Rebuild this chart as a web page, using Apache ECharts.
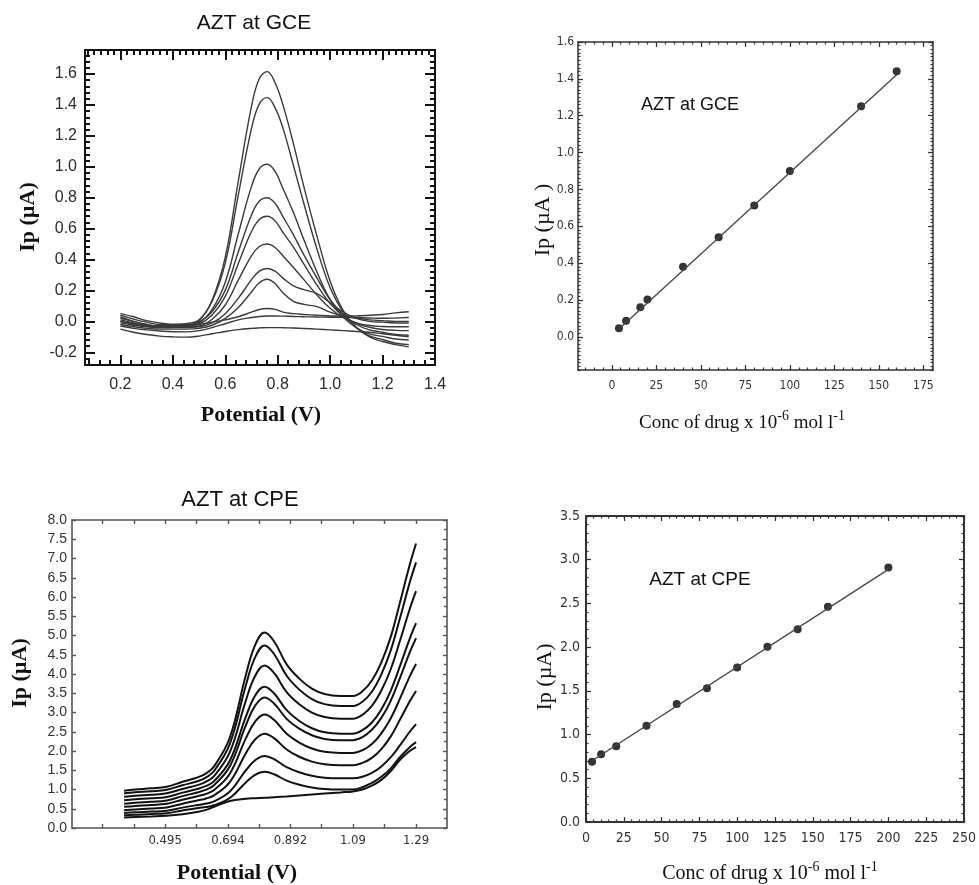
<!DOCTYPE html>
<html>
<head>
<meta charset="utf-8">
<script src="https://cdn.jsdelivr.net/npm/echarts@6/dist/echarts.min.js"></script>
<style>html,body{margin:0;padding:0;background:#fff}#c{width:979px;height:885px}</style>
</head>
<body>
<div id="c"></div>
<script>
// ---------- Panel 1: AZT at GCE voltammograms ----------
const gcePotential = [0.2, 0.25, 0.3, 0.35, 0.4, 0.45, 0.5, 0.55, 0.6, 0.65, 0.7, 0.73, 0.76, 0.79, 0.82, 0.86, 0.9, 0.95, 1.0, 1.05, 1.1, 1.15, 1.2, 1.25, 1.3];
const gceI1 = [0.03, 0.0, -0.02, -0.03, -0.03, -0.03, 0.004, 0.138, 0.415, 0.911, 1.39, 1.571, 1.615, 1.543, 1.40, 1.15, 0.87, 0.55, 0.26, 0.07, -0.04, -0.1, -0.13, -0.15, -0.165];
const gceI2 = [0.04, 0.015, -0.005, -0.02, -0.02, -0.015, 0.01, 0.13, 0.377, 0.82, 1.247, 1.407, 1.447, 1.381, 1.25, 1.008, 0.761, 0.467, 0.218, 0.059, -0.04, -0.094, -0.117, -0.141, -0.15];
const gceI3 = [0.02, 0.0, -0.02, -0.03, -0.03, -0.025, -0.009, 0.077, 0.253, 0.568, 0.873, 0.987, 1.016, 0.97, 0.859, 0.704, 0.528, 0.318, 0.141, 0.028, -0.042, -0.081, -0.097, -0.114, -0.12];
const gceI4 = [0.05, 0.03, 0.005, -0.01, -0.02, -0.02, -0.003, 0.064, 0.202, 0.45, 0.688, 0.778, 0.80, 0.764, 0.677, 0.56, 0.43, 0.28, 0.14, 0.045, -0.02, -0.055, -0.07, -0.085, -0.09];
const gceI5 = [0.0, -0.015, -0.025, -0.03, -0.03, -0.03, -0.016, 0.042, 0.162, 0.375, 0.581, 0.659, 0.68, 0.65, 0.576, 0.48, 0.37, 0.235, 0.115, 0.035, -0.012, -0.038, -0.052, -0.058, -0.06];
const gceI6 = [0.01, -0.01, -0.03, -0.04, -0.04, -0.035, -0.03, 0.014, 0.106, 0.268, 0.424, 0.484, 0.50, 0.478, 0.424, 0.349, 0.27, 0.17, 0.085, 0.025, -0.01, -0.027, -0.033, -0.035, -0.035];
const gceI7 = [-0.01, -0.025, -0.035, -0.04, -0.04, -0.04, -0.035, -0.01, 0.05, 0.15, 0.27, 0.325, 0.342, 0.325, 0.28, 0.23, 0.205, 0.18, 0.12, 0.06, 0.02, 0.0, -0.005, -0.01, -0.01];
const gceI8 = [-0.02, -0.035, -0.045, -0.05, -0.05, -0.05, -0.045, -0.025, 0.02, 0.09, 0.19, 0.25, 0.273, 0.245, 0.185, 0.13, 0.11, 0.095, 0.06, 0.035, 0.02, 0.01, 0.005, 0.0, 0.0];
const gceI9 = [0.0, -0.02, -0.03, -0.035, -0.035, -0.03, -0.02, -0.005, 0.01, 0.03, 0.06, 0.077, 0.083, 0.078, 0.06, 0.05, 0.045, 0.04, 0.035, 0.035, 0.035, 0.04, 0.045, 0.055, 0.062];
const gceI10 = [-0.03, -0.045, -0.055, -0.062, -0.067, -0.068, -0.06, -0.04, -0.015, 0.01, 0.025, 0.032, 0.035, 0.035, 0.034, 0.032, 0.03, 0.028, 0.027, 0.026, 0.025, 0.022, 0.02, 0.022, 0.025];
const gceI11 = [-0.05, -0.07, -0.085, -0.095, -0.1, -0.102, -0.095, -0.08, -0.065, -0.053, -0.045, -0.042, -0.04, -0.04, -0.041, -0.043, -0.046, -0.05, -0.055, -0.06, -0.065, -0.07, -0.08, -0.09, -0.1];
const gceXTicks = [0.2, 0.4, 0.6, 0.8, 1.0, 1.2, 1.4];
const gceYTicks = [-0.2, 0.0, 0.2, 0.4, 0.6, 0.8, 1.0, 1.2, 1.4, 1.6];

// ---------- Panel 2: AZT at GCE calibration ----------
const gceConc = [4, 8, 16, 20, 40, 60, 80, 100, 140, 160];
const gceIp = [0.046, 0.087, 0.16, 0.203, 0.38, 0.54, 0.713, 0.90, 1.251, 1.441];
const gceFitConc = [4, 160];
const gceFitIp = [0.042, 1.422];
const gceCalXTicks = [0, 25, 50, 75, 100, 125, 150, 175];
const gceCalYTicks = [0.0, 0.2, 0.4, 0.6, 0.8, 1.0, 1.2, 1.4, 1.6];

// ---------- Panel 3: AZT at CPE voltammograms ----------
const cpePotential = [0.365, 0.40, 0.45, 0.50, 0.55, 0.60, 0.625, 0.65, 0.70, 0.75, 0.78, 0.81, 0.84, 0.88, 0.92, 0.96, 1.00, 1.05, 1.09, 1.12, 1.15, 1.18, 1.21, 1.24, 1.27, 1.29];
const cpeI1 = [0.97, 1.0, 1.03, 1.07, 1.2, 1.32, 1.42, 1.6, 2.35, 3.95, 4.75, 5.08, 4.85, 4.25, 3.88, 3.62, 3.48, 3.43, 3.43, 3.55, 3.83, 4.30, 4.97, 5.89, 6.84, 7.39];
const cpeI2 = [0.90, 0.928, 0.954, 0.993, 1.111, 1.22, 1.315, 1.48, 2.184, 3.684, 4.43, 4.74, 4.52, 3.955, 3.594, 3.35, 3.217, 3.17, 3.17, 3.28, 3.54, 3.99, 4.62, 5.48, 6.38, 6.9];
const cpeI3 = [0.81, 0.837, 0.863, 0.90, 1.015, 1.12, 1.204, 1.349, 1.969, 3.29, 3.947, 4.22, 4.027, 3.53, 3.213, 2.999, 2.881, 2.84, 2.84, 2.94, 3.17, 3.57, 4.13, 4.89, 5.69, 6.15];
const cpeI4 = [0.72, 0.746, 0.771, 0.807, 0.918, 1.02, 1.092, 1.216, 1.746, 2.875, 3.437, 3.67, 3.499, 3.06, 2.779, 2.59, 2.487, 2.45, 2.45, 2.54, 2.74, 3.08, 3.57, 4.23, 4.92, 5.32];
const cpeI5 = [0.63, 0.656, 0.681, 0.717, 0.828, 0.93, 0.996, 1.112, 1.604, 2.652, 3.174, 3.39, 3.235, 2.835, 2.58, 2.408, 2.313, 2.28, 2.28, 2.36, 2.55, 2.86, 3.31, 3.92, 4.56, 4.93];
const cpeI6 = [0.55, 0.574, 0.598, 0.631, 0.735, 0.83, 0.887, 0.987, 1.411, 2.314, 2.763, 2.95, 2.81, 2.45, 2.22, 2.065, 1.98, 1.95, 1.95, 2.02, 2.18, 2.46, 2.85, 3.38, 3.94, 4.26];
const cpeI7 = [0.46, 0.482, 0.504, 0.535, 0.632, 0.72, 0.767, 0.848, 1.194, 1.931, 2.298, 2.45, 2.335, 2.04, 1.851, 1.724, 1.655, 1.63, 1.63, 1.69, 1.82, 2.05, 2.38, 2.83, 3.29, 3.56];
const cpeI8 = [0.39, 0.408, 0.426, 0.451, 0.529, 0.60, 0.634, 0.694, 0.948, 1.489, 1.758, 1.87, 1.789, 1.58, 1.447, 1.357, 1.307, 1.29, 1.29, 1.33, 1.43, 1.6, 1.84, 2.16, 2.50, 2.7];
const cpeI9 = [0.33, 0.346, 0.362, 0.385, 0.455, 0.52, 0.545, 0.59, 0.778, 1.178, 1.377, 1.46, 1.396, 1.23, 1.124, 1.053, 1.014, 1.0, 1.0, 1.06, 1.17, 1.33, 1.55, 1.85, 2.1, 2.23];
const cpeI10 = [0.27, 0.285, 0.30, 0.32, 0.36, 0.42, 0.47, 0.55, 0.70, 0.76, 0.775, 0.785, 0.80, 0.82, 0.845, 0.87, 0.895, 0.925, 0.95, 1.0, 1.1, 1.25, 1.48, 1.78, 2.0, 2.1];
const cpeXTicks = [0.297, 0.396, 0.495, 0.594, 0.694, 0.793, 0.892, 0.991, 1.09, 1.19, 1.29];
const cpeXLabels = [0.495, 0.694, 0.892, 1.09, 1.29];
const cpeYTicks = [0.0, 0.5, 1.0, 1.5, 2.0, 2.5, 3.0, 3.5, 4.0, 4.5, 5.0, 5.5, 6.0, 6.5, 7.0, 7.5, 8.0];

// ---------- Panel 4: AZT at CPE calibration ----------
const cpeConc = [4, 10, 20, 40, 60, 80, 100, 120, 140, 160, 200];
const cpeIp = [0.69, 0.775, 0.866, 1.10, 1.35, 1.53, 1.767, 2.004, 2.206, 2.462, 2.912];
const cpeFitConc = [4, 200];
const cpeFitIp = [0.70, 2.89];
const cpeCalXTicks = [0, 25, 50, 75, 100, 125, 150, 175, 200, 225, 250];
const cpeCalYTicks = [0.0, 0.5, 1.0, 1.5, 2.0, 2.5, 3.0, 3.5];

// ---------- helpers ----------
function steps(from, to, step) {
  const out = [];
  for (let i = 0; ; i++) { const v = +(from + i * step).toFixed(6); if (v > to + 1e-9) break; out.push(v); }
  return out;
}
const SANS = "'Liberation Sans', Arial, sans-serif";
const NARROW = "'Liberation Sans Narrow', 'DejaVu Sans Condensed', 'Liberation Sans', sans-serif";
const SERIF = "'Liberation Serif', 'Times New Roman', serif";

const xAxes = [], yAxes = [], grids = [];
function axis(g, min, max, pos, o) {
  return {
    type: 'value', gridIndex: g, min: min, max: max, position: pos,
    splitLine: { show: false }, minorTick: { show: false },
    axisLine: { show: !!o.line, onZero: false, lineStyle: o.line || {} },
    axisTick: o.ticks ? { show: true, inside: true, length: o.len, customValues: o.ticks, lineStyle: o.tickStyle } : { show: false },
    axisLabel: o.labels ? Object.assign({ show: true, customValues: o.labels, formatter: o.fmt }, o.labelStyle) : { show: false }
  };
}
function panel(g, box, xr, yr, c) {
  grids.push({ left: box[0], top: box[1], width: box[2], height: box[3] });
  const line = { color: c.lineColor, width: c.lineWidth };
  const ts = { color: c.lineColor, width: c.tickWidth };
  xAxes.push(axis(g, xr[0], xr[1], 'bottom', { line: line, ticks: c.xMajor, len: c.majLen, tickStyle: ts, labels: c.xLabels, fmt: c.xFmt, labelStyle: c.xLabelStyle }));
  xAxes.push(axis(g, xr[0], xr[1], 'bottom', { ticks: c.xMinorB, len: c.minLen, tickStyle: ts }));
  xAxes.push(axis(g, xr[0], xr[1], 'top', { line: line, ticks: c.xMajor, len: c.majLen, tickStyle: ts }));
  xAxes.push(axis(g, xr[0], xr[1], 'top', { ticks: c.xMinorT, len: c.minLen, tickStyle: ts }));
  yAxes.push(axis(g, yr[0], yr[1], 'left', { line: line, ticks: c.yMajor, len: c.majLen, tickStyle: ts, labels: c.yLabels, fmt: c.yFmt, labelStyle: c.yLabelStyle }));
  yAxes.push(axis(g, yr[0], yr[1], 'left', { ticks: c.yMinorL, len: c.minLen, tickStyle: ts }));
  yAxes.push(axis(g, yr[0], yr[1], 'right', { line: line, ticks: c.yMajor, len: c.majLen, tickStyle: ts }));
  yAxes.push(axis(g, yr[0], yr[1], 'right', { ticks: c.yMinorR, len: c.minLen, tickStyle: ts }));
}

// Panel 1
panel(0, [85, 50, 350, 315], [0.065, 1.4], [-0.282, 1.755], {
  lineColor: '#111', lineWidth: 2, tickWidth: 2, majLen: 10, minLen: 5,
  xMajor: gceXTicks, xLabels: gceXTicks, xFmt: v => v.toFixed(1),
  xMinorB: steps(0.08, 1.4, 0.04), xMinorT: steps(0.075, 1.4, 0.025),
  yMajor: gceYTicks, yLabels: gceYTicks, yFmt: v => v.toFixed(1),
  yMinorL: steps(-0.28, 1.755, 0.04), yMinorR: steps(-0.28, 1.755, 0.04),
  xLabelStyle: { fontFamily: SANS, fontSize: 16, color: '#2b2b2b', margin: 12 },
  yLabelStyle: { fontFamily: SANS, fontSize: 16, color: '#2b2b2b', margin: 8 }
});
// Panel 2
panel(1, [578, 42, 355, 328], [-19, 180.4], [-0.18, 1.6], {
  lineColor: '#333', lineWidth: 1.5, tickWidth: 1.2, majLen: 5, minLen: 2.5,
  xMajor: gceCalXTicks, xLabels: gceCalXTicks, xFmt: v => String(v),
  xMinorB: steps(-15, 180, 5), xMinorT: steps(-15, 180, 5),
  yMajor: gceCalYTicks, yLabels: gceCalYTicks, yFmt: v => v.toFixed(1),
  yMinorL: steps(-0.18, 1.6, 0.02), yMinorR: steps(-0.18, 1.6, 0.02),
  xLabelStyle: { fontFamily: NARROW, fontSize: 12, color: '#333', margin: 10 },
  yLabelStyle: { fontFamily: NARROW, fontSize: 12, color: '#333', margin: 4 }
});
// Panel 3
panel(2, [72, 520, 375, 308], [0.2, 1.388], [0, 8], {
  lineColor: '#555', lineWidth: 1.6, tickWidth: 1.4, majLen: 4, minLen: 3,
  xMajor: cpeXTicks, xLabels: cpeXLabels, xFmt: v => String(v),
  xMinorB: [], xMinorT: [],
  yMajor: cpeYTicks, yLabels: cpeYTicks, yFmt: v => v.toFixed(1),
  yMinorL: [], yMinorR: steps(0.25, 8, 0.5),
  xLabelStyle: { fontFamily: NARROW, fontSize: 13, color: '#333', margin: 6 },
  yLabelStyle: { fontFamily: SANS, fontSize: 14, color: '#333', margin: 5 }
});
// Panel 4
panel(3, [586, 516, 379, 306], [0, 250], [0, 3.5], {
  lineColor: '#333', lineWidth: 2, tickWidth: 1.2, majLen: 5, minLen: 2.5,
  xMajor: cpeCalXTicks, xLabels: cpeCalXTicks, xFmt: v => String(v),
  xMinorB: steps(5, 250, 5), xMinorT: steps(5, 250, 5),
  yMajor: cpeCalYTicks, yLabels: cpeCalYTicks, yFmt: v => v.toFixed(1),
  yMinorL: steps(0.1, 3.5, 0.1), yMinorR: steps(0.1, 3.5, 0.1),
  xLabelStyle: { fontFamily: NARROW, fontSize: 14, color: '#333', margin: 9 },
  yLabelStyle: { fontFamily: NARROW, fontSize: 14, color: '#333', margin: 6 }
});

// ---------- series ----------
const series = [];
const zip = (xs, ys) => xs.map((x, i) => [x, ys[i]]);
[gceI1, gceI2, gceI3, gceI4, gceI5, gceI6, gceI7, gceI8, gceI9, gceI10, gceI11].forEach(ys => {
  series.push({ type: 'line', xAxisIndex: 0, yAxisIndex: 0, data: zip(gcePotential, ys), smooth: 0.4, showSymbol: false,
    lineStyle: { color: '#3a3a3a', width: 1.4 } });
});
series.push({ type: 'line', xAxisIndex: 4, yAxisIndex: 4, data: zip(gceFitConc, gceFitIp), showSymbol: false,
  lineStyle: { color: '#444', width: 1.3 } });
series.push({ type: 'scatter', xAxisIndex: 4, yAxisIndex: 4, data: zip(gceConc, gceIp), symbolSize: 8,
  itemStyle: { color: '#000' } });
[cpeI1, cpeI2, cpeI3, cpeI4, cpeI5, cpeI6, cpeI7, cpeI8, cpeI9, cpeI10].forEach(ys => {
  series.push({ type: 'line', xAxisIndex: 8, yAxisIndex: 8, data: zip(cpePotential, ys), smooth: 0.4, showSymbol: false,
    lineStyle: { color: '#111', width: 2 } });
});
series.push({ type: 'line', xAxisIndex: 12, yAxisIndex: 12, data: zip(cpeFitConc, cpeFitIp), showSymbol: false,
  lineStyle: { color: '#444', width: 1.3 } });
series.push({ type: 'scatter', xAxisIndex: 12, yAxisIndex: 12, data: zip(cpeConc, cpeIp), symbolSize: 8,
  itemStyle: { color: '#000' } });

// ---------- texts ----------
function txt(x, y, text, font, extra) {
  return Object.assign({ type: 'text', x: x, y: y, silent: true,
    style: Object.assign({ text: text, font: font, fill: '#111', align: 'center', verticalAlign: 'middle' }, (extra && extra.style) || {}) },
    extra && extra.rotation ? { rotation: extra.rotation } : {});
}
const supText = '{n|Conc of drug x 10}{s|-6}{n| mol l}{s|-1}';
function supLabel(x, y, size) {
  return { type: 'text', x: x, y: y, silent: true,
    style: { text: supText, fill: '#111', align: 'center', verticalAlign: 'middle',
      rich: {
        n: { fontFamily: SERIF, fontSize: size, lineHeight: size + 4, verticalAlign: 'bottom', fill: '#111' },
        s: { fontFamily: SERIF, fontSize: Math.round(size * 0.72), lineHeight: size + 4, verticalAlign: 'top', fill: '#111' }
      } } };
}
const graphic = [
  txt(254, 23, 'AZT at GCE', '21px ' + SANS),
  txt(28, 217, 'Ip (µA)', 'bold 22px ' + SERIF, { rotation: Math.PI / 2 }),
  txt(261, 415, 'Potential (V)', 'bold 22px ' + SERIF),
  txt(690, 105, 'AZT at GCE', '18px ' + SANS),
  txt(543, 220, 'Ip (µA )', '22px ' + SERIF, { rotation: Math.PI / 2 }),
  supLabel(742, 421, 19),
  txt(240, 500, 'AZT at CPE', '22px ' + SANS),
  txt(20, 673, 'Ip (µA)', 'bold 22px ' + SERIF, { rotation: Math.PI / 2 }),
  txt(237, 873, 'Potential (V)', 'bold 22px ' + SERIF),
  txt(700, 580, 'AZT at CPE', '19px ' + SANS),
  txt(545, 677, 'Ip (µA)', '22px ' + SERIF, { rotation: Math.PI / 2 }),
  supLabel(770, 872, 20)
];

const chart = echarts.init(document.getElementById('c'), null, { renderer: 'canvas' });
chart.setOption({
  animation: false,
  backgroundColor: '#fff',
  grid: grids,
  xAxis: xAxes,
  yAxis: yAxes,
  series: series,
  graphic: graphic
});
</script>
</body>
</html>
